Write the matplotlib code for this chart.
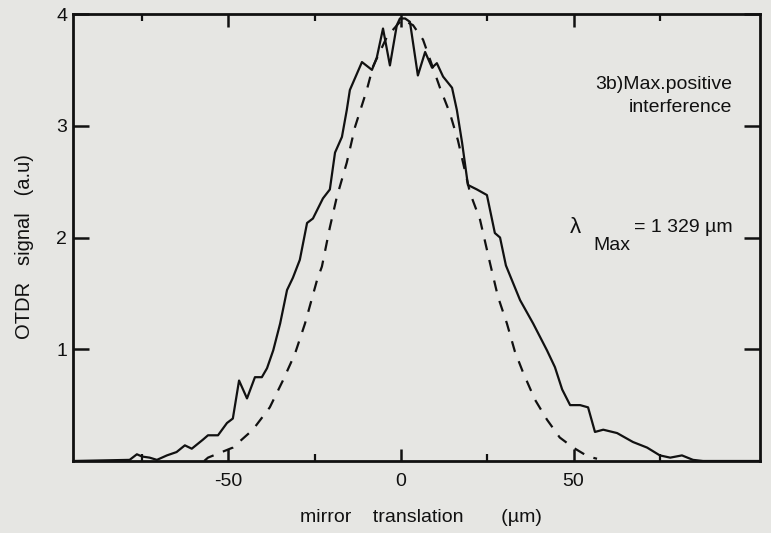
import numpy as np
import matplotlib
matplotlib.use("Agg")
import matplotlib.pyplot as plt

# measured OTDR signal (solid)
meas_x = [-95, -78.6, -76.5, -75, -72.8, -70.7, -67.8, -65, -62.6, -60.6, -57.4, -55.9,
          -53, -50.4, -48.7, -46.9, -44.6, -42.3, -40.3, -38.8, -37, -35, -33, -31.3,
          -29.3, -27.2, -25.5, -22.6, -20.6, -19.1, -17.1, -15.7, -14.8, -11.3, -8.4,
          -7.0, -5.2, -3.2, -1.2, -0.3, 1.2, 2.6, 4.9, 7.0, 9.0, 10.4, 12.2, 14.8, 16.2,
          17.7, 19.4, 22, 24.9, 27.2, 28.7, 30.4, 34.5, 38.3, 42.3, 44.6, 46.7, 49, 51.9,
          54.2, 56.2, 58.6, 62.6, 67.2, 71.3, 75, 78, 81.4, 84.6, 87.5, 104]
meas_y = [0.0, 0.01, 0.06, 0.04, 0.03, 0.01, 0.05, 0.08, 0.14, 0.11, 0.19, 0.23,
          0.23, 0.34, 0.38, 0.72, 0.56, 0.75, 0.75, 0.83, 0.99, 1.23, 1.53, 1.64,
          1.80, 2.13, 2.17, 2.35, 2.43, 2.76, 2.90, 3.14, 3.32, 3.57, 3.50,
          3.61, 3.87, 3.54, 3.90, 3.96, 3.96, 3.93, 3.45, 3.66, 3.52, 3.56, 3.44, 3.34, 3.14,
          2.85, 2.47, 2.43, 2.38, 2.04, 2.00, 1.75, 1.44, 1.23, 0.99, 0.84, 0.64, 0.50, 0.50,
          0.48, 0.26, 0.28, 0.25, 0.17, 0.12, 0.05, 0.03, 0.05, 0.01, 0.0, 0.0]

# calculated curve (dashed)
calc_x = [-57, -55.9, -48.7, -42.9, -38, -34.2, -30.7, -27.8, -24.3, -22.9, -20.6, -18.6,
          -15.7, -13.3, -9.9, -8.1, -4, 0.3, 3.5, 6.4, 11.3, 14.2, 16.5, 20, 22.9, 25.8,
          28.1, 30.7, 33, 35.4, 38.8, 42.3, 46, 49.9, 54.2, 56.8]
calc_y = [0.0, 0.03, 0.12, 0.28, 0.48, 0.72, 0.96, 1.23, 1.62, 1.74, 2.09, 2.36,
          2.67, 2.99, 3.32, 3.53, 3.80, 3.95, 3.90, 3.77, 3.34, 3.11, 2.87, 2.40, 2.16, 1.77,
          1.47, 1.23, 0.98, 0.79, 0.55, 0.37, 0.21, 0.12, 0.04, 0.02]

xticks = [-50, 0, 50]
xtick_labels = ["-50", "0", "50"]
xminor = [-75, -25, 25, 75]
yticks = [1, 2, 3, 4]
ytick_labels = ["1", "2", "3", "4"]

bg = "#e6e6e3"
ink = "#111111"
plt.rcParams["font.family"] = ["Liberation Sans", "DejaVu Sans"]

fig = plt.figure(figsize=(7.71, 5.33), dpi=100, facecolor=bg)
ax = fig.add_axes([0.0947, 0.1351, 0.891, 0.8386], facecolor=bg)

ax.plot(meas_x, meas_y, color=ink, lw=1.6)
ax.plot(calc_x, calc_y, color=ink, lw=1.6, linestyle=(0, (5, 4.5)))

ax.set_xlim(-95, 104)
ax.set_ylim(0, 4)

for s in ax.spines.values():
    s.set_linewidth(2)
    s.set_color(ink)

ax.set_xticks(xticks)
ax.set_xticklabels(xtick_labels)
ax.set_xticks(xminor, minor=True)
ax.set_yticks(yticks)
ax.set_yticklabels(ytick_labels)
ax.tick_params(which="major", direction="in", length=9, width=1.8, colors=ink,
               labelsize=14, top=True, right=True)
ax.tick_params(which="minor", direction="in", length=5, width=1.6, colors=ink,
               top=True)
ax.tick_params(axis="x", which="major", pad=8.5)
ax.tick_params(axis="y", which="major", length=11.5, pad=4.3)

fig.text(25 / 771, 1 - 247 / 533, "OTDR   signal   (a.u)", rotation=90,
         ha="center", va="center", fontsize=14.5, color=ink)
fig.text(421 / 771, 1 - 518 / 533, "mirror    translation       (µm)",
         ha="center", va="center", fontsize=14, color=ink)

ax.text(96, 3.365, "3b)Max.positive", ha="right", va="center", fontsize=14, color=ink)
ax.text(96, 3.16, "interference", ha="right", va="center", fontsize=14, color=ink)
ax.text(49, 2.09, "λ", fontsize=16, color=ink, ha="left", va="center")
ax.text(55.7, 1.93, "Max", fontsize=14, color=ink, ha="left", va="center")
ax.text(67.5, 2.09, "= 1 329 µm", fontsize=14, color=ink, ha="left", va="center")

fig.savefig("out.png", dpi=100, facecolor=bg)
